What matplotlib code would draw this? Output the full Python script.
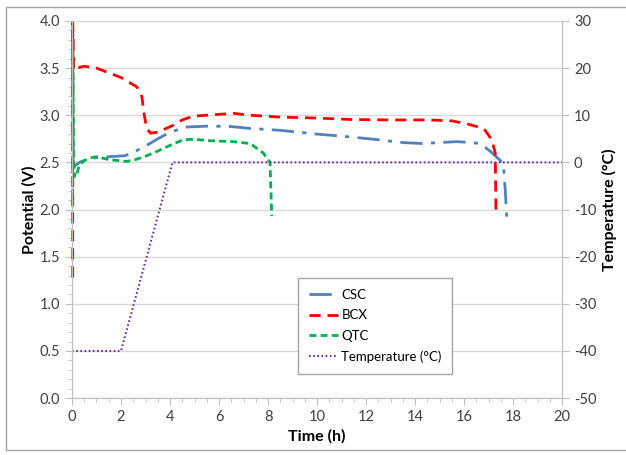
import matplotlib
matplotlib.use('Agg')
import matplotlib.pyplot as plt
from matplotlib.patches import Rectangle
from matplotlib.ticker import MultipleLocator, FormatStrFormatter

plt.rcParams['font.family'] = ['Lato', 'DejaVu Sans']
plt.rcParams['axes.unicode_minus'] = False

# Data
csc_t = [0.03, 0.05, 0.15, 0.3, 0.5, 1.0, 1.5, 2.16, 2.6, 3.05, 3.5, 4.0, 4.68, 5.6, 6.5,
         7.27, 8.5, 10, 11.35, 12.5, 13.5, 14.3, 15.0, 15.7, 16.3, 16.65, 17.06, 17.35,
         17.6, 17.68, 17.75]
csc_v = [3.9, 2.45, 2.47, 2.5, 2.52, 2.55, 2.56, 2.57, 2.62, 2.68, 2.75, 2.82, 2.875,
         2.885, 2.88, 2.86, 2.84, 2.8, 2.77, 2.74, 2.71, 2.70, 2.71, 2.72, 2.71, 2.70,
         2.62, 2.55, 2.49, 2.2, 1.86]

bcx_t = [0.03, 0.03, 0.07, 0.2, 0.5, 1.0, 1.5, 2.0, 2.65, 2.85, 2.95, 3.05, 3.2, 3.5, 4.1,
         4.5, 4.95, 5.5, 6.6, 7.27, 8.5, 10, 11.35, 13, 14.6, 15.5, 16.1, 16.8, 17.13,
         17.27, 17.3]
bcx_v = [1.28, 3.98, 3.48, 3.5, 3.52, 3.5, 3.45, 3.4, 3.3, 3.2, 3.0, 2.86, 2.81, 2.82,
         2.89, 2.95, 2.99, 3.0, 3.02, 3.0, 2.98, 2.97, 2.955, 2.95, 2.95, 2.94, 2.91,
         2.86, 2.74, 2.6, 1.94]

qtc_t = [0.03, 0.03, 0.06, 0.1, 0.15, 0.2, 0.3, 0.5, 0.8, 1.0, 1.5, 2.23, 2.6, 3.05, 3.5,
         4.0, 4.54, 5.0, 5.6, 6.6, 7.27, 7.8, 8.08, 8.15]
qtc_v = [2.03, 3.8, 2.6, 2.35, 2.4, 2.38, 2.47, 2.52, 2.55, 2.56, 2.53, 2.51, 2.53, 2.57,
         2.62, 2.68, 2.74, 2.745, 2.73, 2.72, 2.70, 2.6, 2.5, 1.93]

temp_t = [0, 2.0, 4.1, 20]
temp_c = [-40, -40, 0, 0]

blue = '#4F81BD'
red = '#FF0000'
green = '#00B050'
purple = '#7030A0'
grey = '#BFBFBF'

fig = plt.figure(figsize=(6.26, 4.55), dpi=100)
ax = fig.add_axes([0.115, 0.125, 0.783, 0.829])
ax2 = ax.twinx()

l1, = ax.plot(csc_t, csc_v, color=blue, lw=2, dashes=(8, 3, 1.5, 3), label='CSC',
              zorder=3, clip_on=False)
l2, = ax.plot(bcx_t, bcx_v, color=red, lw=2, dashes=(4, 2.5), label='BCX',
              zorder=3, clip_on=False)
l3, = ax.plot(qtc_t, qtc_v, color=green, lw=2, dashes=(2.5, 1.5), label='QTC',
              zorder=3, clip_on=False)
l4, = ax2.plot(temp_t, temp_c, color=purple, lw=1.5, dashes=(0.8, 1.2),
               label='Temperature (°C)')

ax.set_xlim(0, 20)
ax.set_ylim(0, 4.0)
ax2.set_ylim(-50, 30)
ax.xaxis.set_major_locator(MultipleLocator(2))
ax.xaxis.set_minor_locator(MultipleLocator(0.5))
ax.yaxis.set_major_locator(MultipleLocator(0.5))
ax.yaxis.set_minor_locator(MultipleLocator(0.1))
ax2.yaxis.set_major_locator(MultipleLocator(10))
ax.yaxis.set_major_formatter(FormatStrFormatter('%.1f'))

ax.grid(axis='y', color='#D9D9D9', lw=1)
ax.set_axisbelow(True)

for a in (ax, ax2):
    for s in a.spines.values():
        s.set_color(grey)
    a.spines['top'].set_visible(False)
    a.tick_params(which='both', colors=grey, labelcolor='#404040', labelsize=10.5)
    a.tick_params(which='major', length=5)
    a.tick_params(which='minor', length=3)

ax.set_xlabel('Time (h)', fontsize=11.5, fontweight='bold', labelpad=4)
ax.set_ylabel('Potential (V)', fontsize=11.5, fontweight='bold', labelpad=2)
ax2.set_ylabel('Temperature (°C)', fontsize=11.5, fontweight='bold', labelpad=4)

leg = ax2.legend(handles=[l1, l2, l3, l4], loc='upper left',
                 bbox_to_anchor=(0.461, 0.318), fontsize=9.5, frameon=True,
                 fancybox=False, edgecolor='#A6A6A6', handlelength=2.2,
                 borderpad=0.8, labelspacing=0.65, handletextpad=0.3,
                 borderaxespad=0, framealpha=1)
leg.get_frame().set_linewidth(1)

fig.patches.append(Rectangle((6 / 626, 5 / 455), 1.0, 443 / 455, transform=fig.transFigure,
                             fill=False, edgecolor='#A6A6A6', lw=1))

fig.savefig('out.png', dpi=100)
